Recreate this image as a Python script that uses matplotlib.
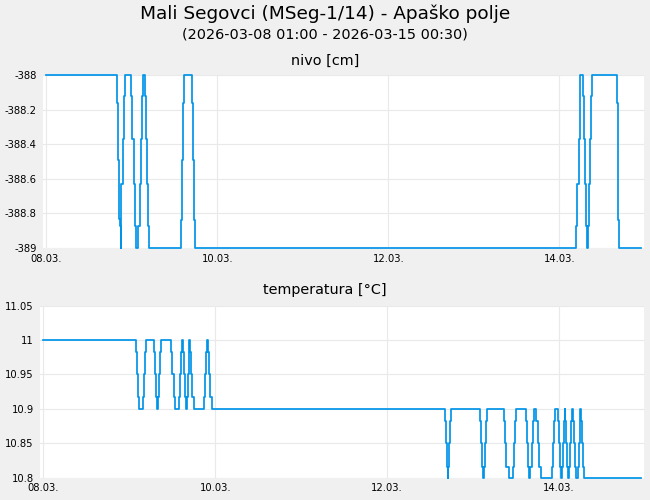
import datetime as dt
import matplotlib
matplotlib.use("Agg")
from matplotlib import pyplot as plt

# time stamps are hours after the first sample (08.03. on the axis)
START = dt.datetime(2026, 3, 8, 0, 0)

nivo_hours = [0, 19.94, 20.22, 20.50, 20.78, 20.88, 20.97, 21.06, 21.44, 21.81, 22.00,
              23.78, 24.15, 24.52, 24.90, 25.09, 25.83, 26.21, 26.49, 26.77, 27.05,
              27.71, 28.08, 28.36, 28.64, 28.92, 37.81, 38.18, 38.46, 38.75,
              40.80, 41.17, 41.55, 41.83, 148.70, 149.06, 149.44, 149.72, 149.90,
              150.65, 150.93, 151.21, 151.59, 151.87, 151.96, 152.24, 152.52, 152.80, 153.08,
              160.10, 160.38, 160.57, 160.85, 167.0]
nivo_values = [-388, -388.16, -388.49, -388.83, -388.87, -389, -388.84, -388.63, -388.37, -388.12, -388,
               -388.12, -388.37, -388.63, -388.87, -389, -388.87, -388.63, -388.37, -388.12, -388,
               -388.12, -388.37, -388.63, -388.87, -389, -388.84, -388.49, -388.16, -388,
               -388.16, -388.49, -388.84, -389, -388.87, -388.63, -388.37, -388.12, -388,
               -388.12, -388.37, -388.63, -388.87, -389, -388.87, -388.63, -388.37, -388.12, -388,
               -388.16, -388.50, -388.84, -389, -389]

temp_hours = [0, 25.90, 26.18, 26.55, 26.83, 27.95, 28.23, 28.51, 28.79,
              30.93, 31.21, 31.49, 31.86, 32.05, 32.33, 32.61, 32.97,
              35.76, 36.04, 36.38, 36.88, 38.00, 38.28, 38.56, 38.84,
              39.03, 39.31, 39.59, 39.87, 40.07, 40.35, 40.63, 40.79,
              40.99, 41.35, 41.63, 42.02, 44.98, 45.26, 45.54, 45.82,
              46.02, 46.30, 46.66, 47.05,
              112.04, 112.32, 112.60, 112.88, 113.07, 113.35, 113.63, 113.91,
              122.02, 122.30, 122.58, 122.86, 123.05, 123.33, 123.61, 123.89,
              128.72, 129.00, 129.28, 129.92, 131.04, 131.32, 131.60, 131.99,
              134.79, 135.07, 135.35, 135.71, 135.99, 136.35, 136.63, 136.91,
              137.66, 138.03, 138.42, 138.87, 142.05, 142.33, 142.69, 142.97,
              143.73, 144.09, 144.37, 144.65, 144.93, 145.12, 145.29, 145.57,
              145.77, 146.05, 146.33, 146.61, 146.88, 147.16, 147.36, 147.64,
              147.81, 148.09, 148.37, 148.76, 149.20, 149.48, 149.76, 149.96,
              150.15, 150.43, 150.80, 151.08, 167.0]
temp_values = [11.0, 10.983, 10.95, 10.917, 10.9, 10.917, 10.95, 10.983, 11.0,
               10.983, 10.95, 10.917, 10.9, 10.917, 10.95, 10.983, 11.0,
               10.983, 10.95, 10.917, 10.9, 10.917, 10.95, 10.983, 11.0,
               10.983, 10.95, 10.917, 10.9, 10.917, 10.95, 10.983, 11.0,
               10.983, 10.95, 10.917, 10.9, 10.917, 10.95, 10.983, 11.0,
               10.983, 10.95, 10.917, 10.9,
               10.883, 10.85, 10.815, 10.8, 10.815, 10.85, 10.883, 10.9,
               10.883, 10.85, 10.815, 10.8, 10.815, 10.85, 10.883, 10.9,
               10.883, 10.85, 10.815, 10.8, 10.815, 10.85, 10.883, 10.9,
               10.883, 10.85, 10.815, 10.8, 10.815, 10.85, 10.883, 10.9,
               10.883, 10.85, 10.815, 10.8, 10.815, 10.85, 10.883, 10.9,
               10.883, 10.85, 10.815, 10.8, 10.815, 10.85, 10.883, 10.9,
               10.883, 10.85, 10.815, 10.8, 10.815, 10.85, 10.883, 10.9,
               10.883, 10.85, 10.815, 10.8, 10.815, 10.85, 10.883, 10.9,
               10.883, 10.85, 10.815, 10.8, 10.8]

nivo_ticks = [-389, -388.8, -388.6, -388.4, -388.2, -388]
nivo_tick_labels = ["-389", "-388.8", "-388.6", "-388.4", "-388.2", "-388"]
temp_ticks = [10.8, 10.85, 10.9, 10.95, 11.0, 11.05]
temp_tick_labels = ["10.8", "10.85", "10.9", "10.95", "11", "11.05"]
date_ticks = [dt.datetime(2026, 3, d) for d in (8, 10, 12, 14)]
date_tick_labels = ["08.03.", "10.03.", "12.03.", "14.03."]

LINE_COLOR = "#0094e8"
GRID_COLOR = "#e9e9e9"
BG_COLOR = "#f0f0f0"


def to_times(hours):
    return [START + dt.timedelta(hours=h) for h in hours]


def draw_panel(ax, hours, values, ticks, tick_labels, ylim):
    ax.set_facecolor("white")
    ax.plot(to_times(hours), values, drawstyle="steps-post", color=LINE_COLOR,
            linewidth=1.25, clip_on=False, zorder=3)
    ax.set_xlim(START + dt.timedelta(hours=-0.93), START + dt.timedelta(hours=167.6))
    ax.set_ylim(*ylim)
    ax.set_yticks(ticks)
    ax.set_yticklabels(tick_labels)
    ax.set_xticks(date_ticks)
    ax.set_xticklabels(date_tick_labels)
    ax.grid(True, color=GRID_COLOR, linewidth=0.8)
    ax.set_axisbelow(True)
    for spine in ax.spines.values():
        spine.set_visible(False)
    ax.tick_params(axis="both", length=0, labelsize=7.2, colors="black")
    ax.tick_params(axis="y", pad=4.5)
    ax.tick_params(axis="x", pad=4)


fig = plt.figure(figsize=(6.5, 5), dpi=100, facecolor=BG_COLOR)
ax_nivo = fig.add_axes([0.0662, 0.504, 0.9238, 0.346])
ax_temp = fig.add_axes([0.0615, 0.0446, 0.9285, 0.3444])

draw_panel(ax_nivo, nivo_hours, nivo_values, nivo_ticks, nivo_tick_labels, (-389, -388))
draw_panel(ax_temp, temp_hours, temp_values, temp_ticks, temp_tick_labels, (10.8, 11.05))

fig.text(0.5, 0.973, "Mali Segovci (MSeg-1/14) - Apaško polje", ha="center", va="center", fontsize=13.3)
fig.text(0.5, 0.93, "(2026-03-08 01:00 - 2026-03-15 00:30)", ha="center", va="center", fontsize=10.4)
fig.text(0.5, 0.878, "nivo [cm]", ha="center", va="center", fontsize=10.4)
fig.text(0.5, 0.42, "temperatura [°C]", ha="center", va="center", fontsize=10.4)

fig.savefig("out.png", dpi=100, facecolor=BG_COLOR)
